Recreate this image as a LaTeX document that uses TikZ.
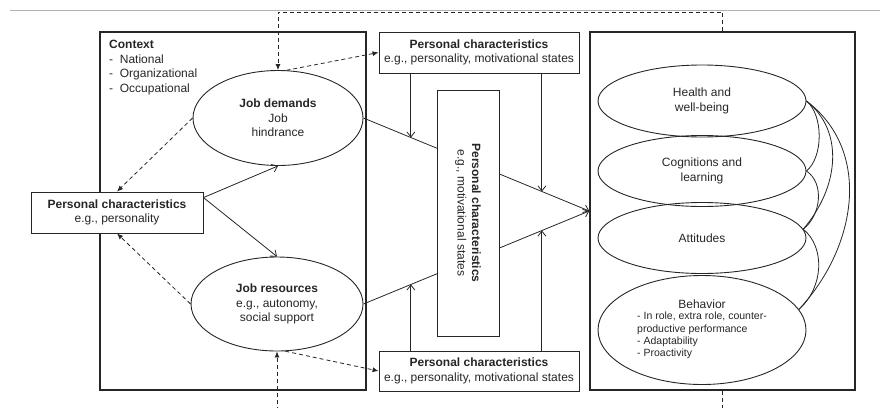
\documentclass[tikz,border=0pt]{standalone}
\usepackage{fontspec}
\setmainfont{Liberation Sans}
\usetikzlibrary{shapes,arrows.meta,calc,positioning}

\tikzset{
  bigbox/.style={draw, line width=1.4pt},
  pcbox/.style={draw, fill=white, align=center, inner sep=2pt, line width=0.9pt},
  ell/.style={draw, ellipse, inner sep=0pt, align=center, line width=0.9pt},
  arr/.style={-{Straight Barb[length=5pt,width=8pt]}, line width=0.8pt},
  darr/.style={dash pattern=on 4pt off 3pt, -{Latex[length=6pt,width=5pt]}, line width=0.8pt},
  link/.style={line width=0.8pt},
}

\begin{document}
\begin{tikzpicture}[x=1pt, y=-1pt, font=\fontsize{12}{14.5}\selectfont, color=black!85]
  \clip (0,0) rectangle (882,407);
  \draw[black!30, line width=0.8pt] (10,10) -- (880,10);

  % Define nodes
  \node[bigbox, minimum width=266pt, minimum height=358pt] (ctx) at (233,211) {};
  \node[bigbox, minimum width=265pt, minimum height=358pt] (out) at (722.5,211) {};
  \node[anchor=north west, align=left, inner sep=0pt] (ctxtxt) at (109,40)
    {\textbf{Context}\\- \ National\\- \ Organizational\\- \ Occupational};

  \node[ell, minimum width=170pt, minimum height=95pt] (jd) at (278,118)
    {\textbf{Job demands}\\Job\\hindrance};
  \node[ell, minimum width=172pt, minimum height=94pt] (jr) at (277,304)
    {\textbf{Job resources}\\e.g., autonomy,\\social support};

  \node[pcbox, minimum width=172pt, minimum height=41pt] (pcl) at (117,212.5)
    {\textbf{Personal characteristics}\\e.g., personality};
  \node[pcbox, minimum width=200pt, minimum height=41pt] (pct) at (479,52.5)
    {\textbf{Personal characteristics}\\e.g., personality, motivational states};
  \node[pcbox, minimum width=200pt, minimum height=40pt] (pcb) at (479,371)
    {\textbf{Personal characteristics}\\e.g., personality, motivational states};

  \node[ell, minimum width=208pt, minimum height=72pt] (hw) at (702,101)
    {Health and\\well-being};
  \node[ell, minimum width=208pt, minimum height=71pt] (cog) at (702,171)
    {Cognitions and\\learning};
  \node[ell, minimum width=208pt, minimum height=71pt] (att) at (702,238)
    {Attitudes};
  \node[ell, minimum width=208pt, minimum height=109pt] (beh) at (702,330)
    {Behavior\\[2pt]{\fontsize{10.5}{12.3}\selectfont
     \begin{tabular}{@{}l@{}}- In role, extra role, counter-\\productive performance\\- Adaptability\\- Proactivity\end{tabular}}};

  % Connect the nodes
  \draw[arr] ([yshift=-6pt]pcl.north east) -- (jd.south);
  \draw[arr] ([yshift=-6pt]pcl.north east) -- (jr.north);
  \draw[darr] (jd.west) -- (pcl.north);
  \draw[darr] (jr.west) -- (pcl.south);
  \draw[darr] (jd.80) -- (pct.west);
  \draw[darr] (jr.-80) -- (pcb.west);
  \draw[darr] (out.north) -- (out.north |- 0,12) -| (jd.north);
  \draw[darr] (out.south) -- (out.south |- 0,430) -| (jr.south);

  \draw[arr] (jd.east) -- (out.west);
  \draw[arr] (jr.east) -- (out.west);
  \coordinate (t1) at ($(jd.east)!0.21!(out.west)$);
  \coordinate (t2) at ($(jd.east)!0.79!(out.west)$);
  \coordinate (b1) at ($(jr.east)!0.21!(out.west)$);
  \coordinate (b2) at ($(jr.east)!0.79!(out.west)$);
  \draw[arr] (t1 |- pct.south) -- (t1);
  \draw[arr] (t2 |- pct.south) -- (t2);
  \draw[arr] (b1 |- pcb.north) -- (b1);
  \draw[arr] (b2 |- pcb.north) -- (b2);

  \node[pcbox, rotate=-90, minimum width=246pt, minimum height=62pt] (pcm) at (468,213)
    {\textbf{Personal characteristics}\\e.g., motivational states};

  % Correlations between outcomes
  \draw[link] (hw.east) .. controls +(17,14) and +(17,-14) .. (cog.east);
  \draw[link] (hw.east) .. controls +(38,30) and +(36,-42) .. (att.5);
  \draw[link] (hw.east) .. controls +(66,50) and +(58,-62) .. (beh.12);
  \draw[link] (cog.east) .. controls +(18,12) and +(18,-14) .. (att.5);
  \draw[link] (att.5) .. controls +(22,18) and +(25,-22) .. (beh.12);
\end{tikzpicture}
\end{document}
